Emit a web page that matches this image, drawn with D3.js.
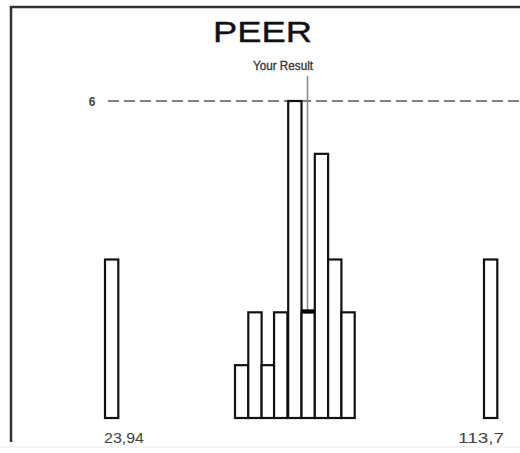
<!DOCTYPE html>
<html lang="en">
<head>
	<meta charset="utf-8">
	<title>PEER histogram</title>
	<script src="https://cdn.jsdelivr.net/npm/d3@7"></script>
	<style>
		body { margin: 0; background: #fff; }
		text { font-family: Arial, "Liberation Sans", sans-serif; }
	</style>
</head>
<body>
<script>
	// bins (lower edge of each bin) and how many peers fell in it
	var binStart = [23.94, 54.73, 57.88, 61.03, 63.98, 67.33, 70.48, 73.63, 76.78, 79.93, 113.7];
	var counts   = [3, 1, 2, 1, 2, 6, 2, 5, 3, 2, 3];
	var binWidth = 3.15;
	var yourResult = 71.9;
	var refLevel = 6;
	var endLabels = ["23,94", "113,7"];

	var width = 520, height = 453;

	var svg = d3.select("body")
		.append("svg")
		.attr("width", width)
		.attr("height", height);

	var xScale = d3.scaleLinear()
		.domain([23.94, 113.7])
		.range([105, 484]);

	var yScale = d3.scaleLinear()
		.domain([0, 6])
		.range([418, 101]);

	// frame
	svg.append("line").attr("x1", 11).attr("x2", 11).attr("y1", 6).attr("y2", 442)
		.attr("stroke", "#333").attr("stroke-width", 2.5);
	svg.append("line").attr("x1", 10).attr("x2", 520).attr("y1", 7).attr("y2", 7)
		.attr("stroke", "#333").attr("stroke-width", 2.5);
	svg.append("line").attr("x1", 0).attr("x2", 520).attr("y1", 447).attr("y2", 447)
		.attr("stroke", "#eee").attr("stroke-width", 1);

	// title
	svg.append("text")
		.attr("x", 213).attr("y", 42)
		.attr("font-size", 30)
		.attr("fill", "#111")
		.attr("stroke", "#111").attr("stroke-width", 0.4)
		.attr("textLength", 99).attr("lengthAdjust", "spacingAndGlyphs")
		.text("PEER");

	// reference level
	svg.append("line")
		.attr("x1", 108).attr("x2", 520)
		.attr("y1", yScale(refLevel)).attr("y2", yScale(refLevel))
		.attr("stroke", "#555").attr("stroke-width", 1.4)
		.attr("stroke-dasharray", "11,5");
	svg.append("text")
		.attr("x", 92).attr("y", yScale(refLevel) + 5)
		.attr("font-size", 12).attr("font-weight", "bold")
		.attr("text-anchor", "middle")
		.attr("fill", "#444")
		.text(refLevel);

	// bars
	svg.selectAll("rect.bar")
		.data(binStart)
		.enter()
		.append("rect")
		.attr("class", "bar")
		.attr("x", function(d) { return xScale(d); })
		.attr("y", function(d, i) { return yScale(counts[i]); })
		.attr("width", function(d) { return xScale(d + binWidth) - xScale(d); })
		.attr("height", function(d, i) { return yScale(0) - yScale(counts[i]); })
		.attr("fill", "#fff")
		.attr("stroke", "#111")
		.attr("stroke-width", 2.2);

	// your result marker
	var rx = xScale(yourResult);
	var bi = binStart.findIndex(function(d) { return yourResult >= d && yourResult < d + binWidth; });
	svg.append("line")
		.attr("x1", rx).attr("x2", rx)
		.attr("y1", 76).attr("y2", yScale(counts[bi]))
		.attr("stroke", "#888").attr("stroke-width", 1.5);
	svg.append("line")
		.attr("x1", xScale(binStart[bi])).attr("x2", xScale(binStart[bi] + binWidth))
		.attr("y1", yScale(counts[bi]) - 1).attr("y2", yScale(counts[bi]) - 1)
		.attr("stroke", "#000").attr("stroke-width", 4);
	svg.append("text")
		.attr("x", 253).attr("y", 70)
		.attr("font-size", 12)
		.attr("fill", "#333")
		.attr("stroke", "#333").attr("stroke-width", 0.3)
		.attr("textLength", 60).attr("lengthAdjust", "spacingAndGlyphs")
		.text("Your Result");

	// end labels
	svg.append("text")
		.attr("x", xScale(binStart[0]) - 1).attr("y", 443)
		.attr("font-size", 14).attr("fill", "#444")
		.attr("textLength", 40).attr("lengthAdjust", "spacingAndGlyphs")
		.text(endLabels[0]);
	svg.append("text")
		.attr("x", xScale(binStart[binStart.length - 1]) - 26).attr("y", 443)
		.attr("font-size", 14).attr("fill", "#444")
		.attr("textLength", 46).attr("lengthAdjust", "spacingAndGlyphs")
		.text(endLabels[1]);
</script>
</body>
</html>
